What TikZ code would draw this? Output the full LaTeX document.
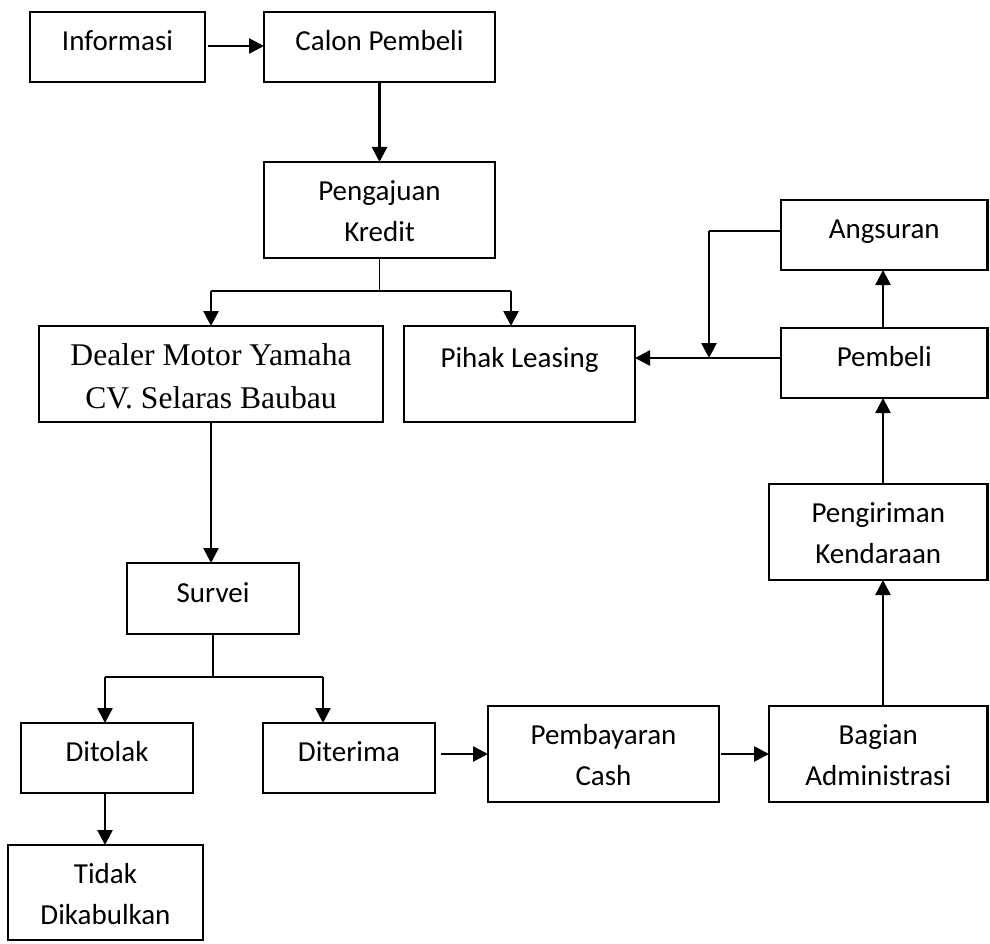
\documentclass[tikz,border=0pt]{standalone}
\usepackage{fontspec}
\setmainfont{Carlito}
\newfontfamily\tnrfont{Liberation Serif}
\usetikzlibrary{arrows.meta}
\newcommand\mybox[7]{\node[box,#6,minimum width={(#3-#2)*1pt},minimum height={(#5-#4)*1pt}] (#1) at ({(#2+#3)/2},{(#4+#5)/2}) {#7};}
\begin{document}
\begin{tikzpicture}[x=1pt,y=-1pt,
  box/.style={draw,line width=2.3pt,inner sep=0pt,outer sep=0pt,anchor=center,
    font=\fontsize{29}{40.6}\selectfont},
  one/.style={text height=18pt,text depth=11pt},
  two/.style={align=center,text height=71pt,text depth=8pt},
  serif/.style={align=center,text height=76.6pt,text depth=8pt,
    font=\tnrfont\fontsize{31.6}{42.6}\selectfont},
  topone/.style={text height=18pt,text depth=32pt},
  arr/.style={line width=2.6pt,-{Triangle[length=15pt,width=15pt]}},
  ln/.style={line width=1.6pt}]
\useasboundingbox (0,0) rectangle (990,944);
\fill[white] (0,0) rectangle (990,944);
\mybox{inf}{30}{205}{12}{82}{one}{Informasi}
\mybox{calon}{264}{495}{12}{82}{one}{Calon Pembeli}
\mybox{peng}{264}{495}{162}{258}{two}{Pengajuan\\Kredit}
\mybox{dealer}{39}{383}{326}{422}{serif}{Dealer Motor Yamaha\\CV. Selaras Baubau}
\mybox{pihak}{404}{635}{326}{422}{topone}{Pihak Leasing}
\mybox{angs}{781}{987.5}{200}{270}{one}{Angsuran}
\mybox{pemb}{781}{987.5}{328}{398}{one}{Pembeli}
\mybox{kirim}{769}{987.5}{484}{580}{two}{Pengiriman\\Kendaraan}
\mybox{surv}{127}{299}{563}{634}{one}{Survei}
\mybox{tolak}{21}{193}{723}{793}{one}{Ditolak}
\mybox{terima}{263}{435}{723}{793}{one}{Diterima}
\mybox{bayar}{488}{719}{706}{802}{two}{Pembayaran\\Cash}
\mybox{admin}{769}{987.5}{706}{802}{two}{Bagian\\Administrasi}
\mybox{tidak}{8}{203}{845}{940}{two}{Tidak\\Dikabulkan}
% connectors
\draw[arr] ([xshift=3pt]inf.east |- 0,46) -- (calon.west |- 0,46);
\draw[arr] (calon.south) -- (peng.north);
\coordinate (pl) at (211,291);
\coordinate (pr) at (511,291);
\draw[ln] (peng.south) -- (peng.south |- pl);
\draw[ln] (pl) -- (pr);
\draw[arr] (pl) -- (pl |- dealer.north);
\draw[arr] (pr) -- (pr |- pihak.north);
\draw[arr] (dealer.south) -- (dealer.south |- surv.north);
\coordinate (sl) at (105,677);
\coordinate (sr) at (323,677);
\draw[ln] (surv.south) -- (surv.south |- sl);
\draw[ln] (sl) -- (sr);
\draw[arr] (sl) -- (sl |- tolak.north);
\draw[arr] (sr) -- (sr |- terima.north);
\draw[arr] (sl |- tolak.south) -- (sl |- tidak.north);
\draw[arr] ([xshift=6pt]terima.east |- bayar.west) -- (bayar.west);
\draw[arr] ([xshift=2pt]bayar.east) -- (admin.west);
\coordinate (vx) at (883,0);
\draw[arr] (admin.north -| vx) -- (kirim.south -| vx);
\draw[arr] (kirim.north -| vx) -- (pemb.south -| vx);
\draw[arr] (pemb.north -| vx) -- (angs.south -| vx);
\coordinate (hy) at (0,358);
\draw[arr] (pemb.west |- hy) -- (pihak.east |- hy);
\coordinate (ja) at (709,231);
\coordinate (jb) at (709,358);
\draw[ln] (angs.west |- ja) -- (ja);
\draw[arr] (ja) -- (jb);
\end{tikzpicture}
\end{document}
